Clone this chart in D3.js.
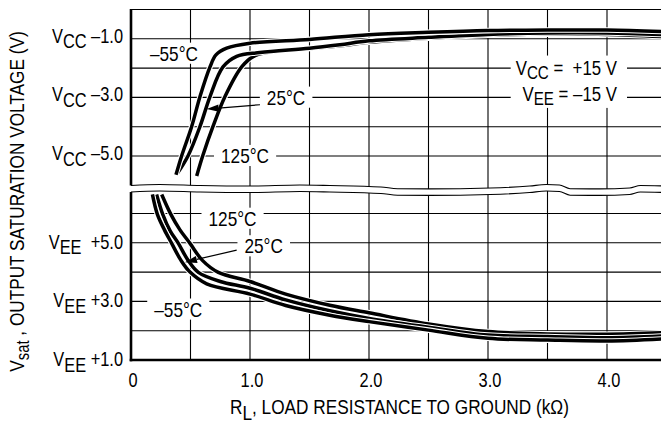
<!DOCTYPE html>
<html><head><meta charset="utf-8">
<script src="https://cdn.jsdelivr.net/npm/d3@7"></script>
<style>body{margin:0;background:#fff} svg{display:block} text{white-space:pre}</style>
</head><body><svg id="c" width="661" height="424"></svg>
<script>
// ---------------- data ----------------
const xTicks = [0, 1, 2, 3, 4];
const xTickLabels = ["0", "1.0", "2.0", "3.0", "4.0"];
const topTicks = [-1, -3, -5];                 // volts relative to VCC
const topTickLabels = [" –1.0", " –3.0", " –5.0"];
const botTicks = [5, 3, 1];                    // volts relative to VEE
const botTickLabels = ["  +5.0", " +3.0", " +1.0"];
const tempLabels = ["–55°C", "25°C", "125°C"];

// upper (VCC) curves: [R_L kOhm, V - VCC]
const vccM55 = [[0.378,-5.64],[0.426,-4.99],[0.51,-3.99],[0.58,-2.97],[0.664,-1.96],[0.714,-1.55],[0.804,-1.32],[1.0,-1.15],[1.5,-1.02],[2.0,-0.86],[2.5,-0.78],[3.0,-0.72],[3.5,-0.70],[4.0,-0.70],[4.46,-0.75]];
const vcc25  = [[0.387,-5.61],[0.48,-4.99],[0.58,-3.99],[0.664,-2.97],[0.773,-1.96],[0.888,-1.6],[1.084,-1.47],[1.5,-1.32],[1.756,-1.2],[2.0,-1.07],[2.5,-0.95],[3.0,-0.85],[3.5,-0.80],[4.0,-0.80],[4.46,-0.85]];
const vcc125 = [[0.552,-5.68],[0.603,-4.99],[0.689,-3.99],[0.79,-2.97],[0.93,-1.96],[1.03,-1.6],[1.14,-1.47],[1.42,-1.36],[1.756,-1.24],[2.0,-1.12],[2.5,-0.98],[3.0,-0.88],[3.5,-0.84],[4.0,-0.85],[4.46,-0.92]];
// lower (VEE) curves: [R_L kOhm, V - VEE]
const veeM55 = [[0.18,6.65],[0.221,5.98],[0.28,5.45],[0.342,4.98],[0.42,4.4],[0.496,4.0],[0.636,3.6],[1.0,3.25],[1.3,2.86],[1.67,2.53],[2.0,2.31],[2.5,2.02],[3.0,1.74],[3.5,1.68],[4.0,1.65],[4.46,1.72]];
const vee25  = [[0.215,6.65],[0.266,5.98],[0.33,5.4],[0.398,4.98],[0.48,4.4],[0.566,3.99],[0.75,3.68],[1.0,3.45],[1.3,3.05],[1.67,2.68],[2.0,2.42],[2.5,2.12],[3.0,1.85],[3.5,1.80],[4.0,1.76],[4.46,1.82]];
const vee125 = [[0.258,6.65],[0.334,5.98],[0.41,5.45],[0.496,4.98],[0.6,4.4],[0.734,3.99],[1.0,3.68],[1.3,3.25],[1.67,2.87],[2.0,2.61],[2.5,2.23],[3.0,1.97],[3.5,1.89],[4.0,1.88],[4.46,1.93]];

// annotation anchors (data coordinates)
const topLabelPos = [[0.361,-1.75],[1.303,-3.25],[0.958,-5.24]];
const botLabelPos = [[0.397,2.48],[1.115,4.64],[0.853,5.58]];
const topArrow = [[1.084,-3.25],[0.636,-3.40]];
const botArrow = [[0.888,4.75],[0.454,4.34]];
const legendPos = [4.084,-2.22,-3.12];
// axis-break wave (kOhm, small offset)
const breakWave = [[0,0],[0.24,-1],[0.58,0],[1.0,0.5],[1.42,-0.5],[1.67,0],[2.1,1.5],[2.24,3.2],[2.51,3.4],[3.02,2.5],[3.35,0.5],[3.49,-1],[3.6,-0.5],[3.69,3.2],[3.94,3.4],[4.19,2.5],[4.28,0],[4.5,0.5]];

// ---------------- drawing ----------------
const W = 661, H = 424;
const svg = d3.select("#c");

function measure(fam){
  const t = svg.append("text").attr("font-family", fam).attr("font-size", 20).text("RESISTANCE TO GROUND");
  const w = t.node().getComputedTextLength(); t.remove(); return w;
}
const narrowOK = measure("'Liberation Sans Narrow'") < measure("'Liberation Sans'") * 0.92;
const FAM = narrowOK ? "'Liberation Sans Narrow','Arial Narrow',sans-serif" : "'Liberation Sans',Arial,sans-serif";
const SX = narrowOK ? 1 : 0.82;

const x = d3.scaleLinear().domain([0, 4.5]).range([131, 666.5]);
const yTop = d3.scaleLinear().domain([0, -6]).range([9.5, 185.3]);
const yBot = d3.scaleLinear().domain([1, 7]).range([360, 184.2]);
const breakY = yTop(-6) + 0.2, breakY2 = breakY + 6.5;

svg.append("defs").append("clipPath").attr("id","clip")
  .append("rect").attr("x", x(0)).attr("y", 0).attr("width", W - x(0)).attr("height", yBot(1));

const grid = svg.append("g").attr("stroke", "#000").attr("stroke-width", 1.1);
d3.range(1, 9).map(i => i * 0.5).forEach(v => {
  grid.append("line").attr("x1", x(v)).attr("x2", x(v)).attr("y1", yTop(0)).attr("y2", yBot(1));
});
[0, -1, -2, -3, -4, -5].forEach(v => {
  grid.append("line").attr("x1", x(0)).attr("x2", W).attr("y1", yTop(v)).attr("y2", yTop(v));
});
[2, 3, 4, 5, 6].forEach(v => {
  grid.append("line").attr("x1", x(0)).attr("x2", W).attr("y1", yBot(v)).attr("y2", yBot(v));
});

// text helper: parts are strings, or [string] for a subscript
function addParts(t, parts, subShift, firstAttrs, subSize){
  let sub = false, first = true;
  parts.forEach(p => {
    const isSub = Array.isArray(p);
    const ts = t.append("tspan").text(isSub ? p[0] : p);
    if (first && firstAttrs) Object.entries(firstAttrs).forEach(([k, v]) => ts.attr(k, v));
    if (isSub && subSize) ts.attr("font-size", subSize);
    if (isSub && !sub) ts.attr("dy", subShift);
    if (!isSub && sub) ts.attr("dy", -subShift);
    sub = isSub; first = false;
  });
}
function txt(parent, px, py, anchor, size, parts, subShift){
  const t = parent.append("text")
    .attr("transform", `translate(${px},${py}) scale(${SX},1)`)
    .attr("text-anchor", anchor).attr("font-family", FAM).attr("font-size", size)
    .attr("fill", "#000").attr("xml:space", "preserve");
  addParts(t, parts, subShift || 5.5);
  return t;
}

const bgLayer = svg.append("g");
const curveLayer = svg.append("g").attr("clip-path", "url(#clip)");
const breakLayer = svg.append("g");
const textLayer = svg.append("g");

function tempLabel(px, py, s){
  const t = txt(textLayer, px, py, "middle", 21, [s]);
  const bb = t.node().getBBox();
  bgLayer.append("rect").attr("fill", "#fff")
    .attr("x", px + bb.x * SX - 7).attr("width", bb.width * SX + 14)
    .attr("y", py - 21 * 0.72 - 3).attr("height", 21 * 0.72 + 6);
}
topLabelPos.forEach((p, i) => tempLabel(x(p[0]), yTop(p[1]), tempLabels[i]));
botLabelPos.forEach((p, i) => tempLabel(x(p[0]), yBot(p[1]), tempLabels[i]));

// legend: two lines
const lx = x(legendPos[0]);
const ly1 = yTop(legendPos[1]), ly2 = yTop(legendPos[2]);
function legLine(py, parts){
  const t = textLayer.append("text")
    .attr("transform", `translate(${lx},${py}) scale(${SX},1)`)
    .attr("text-anchor", "end").attr("font-family", FAM).attr("font-size", 20.5)
    .attr("fill", "#000").attr("xml:space", "preserve");
  addParts(t, parts, 4, null, 18.5);
  return t;
}
const lg1 = legLine(ly1, ["V", ["CC"], " =  +15 V"]);
const lg2 = legLine(ly2, ["V", ["EE"], " = –15 V"]);
{
  const b1 = lg1.node().getBBox(), b2 = lg2.node().getBBox();
  const left = lx + Math.min(b1.x, b2.x) * SX;
  bgLayer.append("rect").attr("fill", "#fff")
    .attr("x", left - 5).attr("width", lx - left + 15)
    .attr("y", ly1 - 19).attr("height", ly2 - ly1 + 26);
}

// curves
const lineTop = d3.line().x(d => x(d[0])).y(d => yTop(d[1])).curve(d3.curveCatmullRom.alpha(0.5));
const lineBot = d3.line().x(d => x(d[0])).y(d => yBot(d[1])).curve(d3.curveCatmullRom.alpha(0.5));
function drawCurve(gen, data){
  curveLayer.append("path").attr("d", gen(data)).attr("fill", "none").attr("stroke", "#fff").attr("stroke-width", 5.6);
  curveLayer.append("path").attr("d", gen(data)).attr("fill", "none").attr("stroke", "#000").attr("stroke-width", 3.5);
}
[vcc125, vcc25, vccM55].forEach(d => drawCurve(lineTop, d));
[vee125, vee25, veeM55].forEach(d => drawCurve(lineBot, d));

// axis break
const waveArea = d3.area().x(d => x(d[0])).y0(d => breakY + d[1]).y1(d => breakY2 + d[1]).curve(d3.curveMonotoneX);
const waveTop = d3.line().x(d => x(d[0])).y(d => breakY + d[1]).curve(d3.curveMonotoneX);
const waveBot = d3.line().x(d => x(d[0])).y(d => breakY2 + d[1]).curve(d3.curveMonotoneX);
breakLayer.append("path").attr("d", waveArea(breakWave)).attr("fill", "#fff");
breakLayer.append("path").attr("d", waveTop(breakWave)).attr("fill", "none").attr("stroke", "#000").attr("stroke-width", 1.1);
breakLayer.append("path").attr("d", waveBot(breakWave)).attr("fill", "none").attr("stroke", "#000").attr("stroke-width", 1.1);

// frame: left border (with break gap) and bottom axis
const frame = svg.append("g").attr("stroke", "#000").attr("stroke-width", 2.6);
frame.append("line").attr("x1", x(0)).attr("x2", x(0)).attr("y1", yTop(0) - 0.5).attr("y2", breakY);
frame.append("line").attr("x1", x(0)).attr("x2", x(0)).attr("y1", breakY2).attr("y2", yBot(1) + 1.3);
frame.append("line").attr("x1", x(0) - 1.3).attr("x2", W).attr("y1", yBot(1)).attr("y2", yBot(1));

// arrows
function arrow(p0, p1){
  const dx = p1[0] - p0[0], dy = p1[1] - p0[1], L = Math.hypot(dx, dy);
  const ux = dx / L, uy = dy / L, hl = 12, hw = 3.6;
  const bx = p1[0] - ux * hl, by = p1[1] - uy * hl;
  textLayer.append("line").attr("x1", p0[0]).attr("y1", p0[1]).attr("x2", bx).attr("y2", by)
    .attr("stroke", "#000").attr("stroke-width", 1.2);
  textLayer.append("path").attr("fill", "#000")
    .attr("d", `M${p1[0]},${p1[1]}L${bx - uy * hw},${by + ux * hw}L${bx + uy * hw},${by - ux * hw}Z`);
}
arrow([x(topArrow[0][0]), yTop(topArrow[0][1])], [x(topArrow[1][0]), yTop(topArrow[1][1])]);
arrow([x(botArrow[0][0]), yBot(botArrow[0][1])], [x(botArrow[1][0]), yBot(botArrow[1][1])]);

// x axis labels via d3 axis
const xAxis = svg.append("g").attr("transform", `translate(0,${yBot(1)})`)
  .call(d3.axisBottom(x).tickValues(xTicks).tickFormat((d, i) => xTickLabels[i]).tickSize(0));
xAxis.select(".domain").remove();
xAxis.selectAll("text")
  .attr("y", null).attr("dy", null)
  .attr("transform", `translate(1.5,27) scale(${SX},1)`)
  .attr("font-family", FAM).attr("font-size", 20).attr("fill", "#000");

// y tick labels
topTicks.forEach((v, i) => txt(svg, 123, yTop(v) + 4, "end", 20, ["V", ["CC"], topTickLabels[i]]));
botTicks.forEach((v, i) => txt(svg, 123, yBot(v) + 6, "end", 20, ["V", ["EE"], botTickLabels[i]]));

// axis titles
txt(svg, 399.5, 414, "middle", 21, ["R", ["L"], ", LOAD RESISTANCE TO GROUND (kΩ)"], 6);
const yt = svg.append("text")
  .attr("transform", `translate(24,201.5) rotate(-90) scale(${SX},1)`)
  .attr("text-anchor", "middle").attr("font-family", FAM).attr("font-size", 21).attr("fill", "#000");
yt.append("tspan").text("V");
yt.append("tspan").text("sat").attr("font-size", 18).attr("dy", 5);
yt.append("tspan").text(" , OUTPUT SATURATION VOLTAGE (V)").attr("dy", -5);
</script></body></html>
